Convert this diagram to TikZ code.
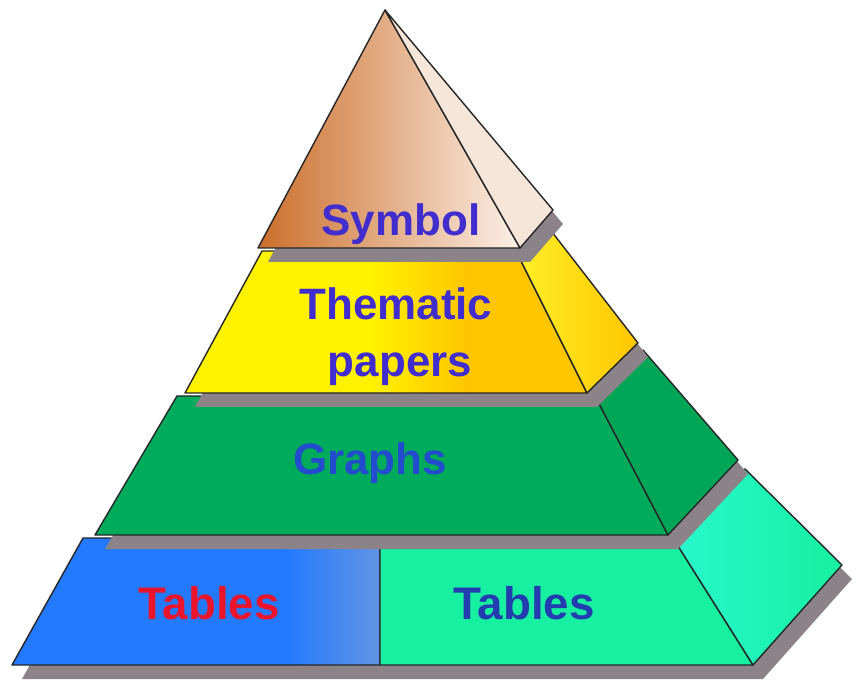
\documentclass[tikz,border=0pt]{standalone}
\usepackage{fontspec}
\setmainfont{Liberation Sans}

\definecolor{symDark}{RGB}{203,110,42}
\definecolor{symLight}{RGB}{252,240,232}
\definecolor{symSide}{RGB}{246,230,218}
\definecolor{yelA}{RGB}{255,242,0}
\definecolor{yelB}{RGB}{255,198,0}
\definecolor{yelSideA}{RGB}{255,240,40}
\definecolor{grnFront}{RGB}{0,172,92}
\definecolor{grnSide}{RGB}{0,166,86}
\definecolor{bluA}{RGB}{35,122,255}
\definecolor{bluB}{RGB}{98,148,228}
\definecolor{tealFront}{RGB}{22,240,160}
\definecolor{tealSide}{RGB}{40,248,205}
\definecolor{shadowGray}{RGB}{140,131,136}
\definecolor{txtPurple}{RGB}{65,45,205}
\definecolor{txtBlue}{RGB}{35,75,205}
\definecolor{txtRed}{RGB}{235,20,45}
\definecolor{txtNavy}{RGB}{35,60,175}

\pgfdeclarehorizontalshading{bluefade}{100bp}{color(0bp)=(bluA); color(25bp)=(bluA);
  color(62bp)=(bluA); color(75bp)=(bluB); color(100bp)=(bluB)}
\pgfdeclarehorizontalshading{yelfade}{100bp}{color(0bp)=(yelA); color(25bp)=(yelA);
  color(48bp)=(yelA); color(60bp)=(yelB); color(100bp)=(yelB)}

% outlines of the four tiers (front + side), in pixels
\newcommand{\outlineTables}{(12,665) -- (83,538) -- (673,538) -- (745,469) -- (842,565) -- (753,665) -- cycle}
\newcommand{\outlineGraphs}{(95,535) -- (177,396) -- (595,396) -- (643,350) -- (738,460) -- (668,535) -- cycle}
\newcommand{\outlinePapers}{(185,393) -- (262,251) -- (516,251) -- (552,232) -- (638,343) -- (587,393) -- cycle}
\newcommand{\outlineSymbol}{(258,248) -- (385,10) -- (553,210) -- (520,248) -- cycle}

\begin{document}
\begin{tikzpicture}[
    x=0.02cm, y=-0.02cm,
    facet/.style={draw=black!85, line width=0.8pt, line join=round},
    slabshadow/.style={fill=shadowGray, shift={(10,14)}},
    tiertext/.style={font=\bfseries\fontsize{25}{30}\selectfont, anchor=base, inner sep=0pt},
]
\useasboundingbox (0,0) rectangle (863,689);

% bottom tier
\fill[slabshadow] \outlineTables;
\shade[facet, shading=bluefade] (12,665) -- (83,538) -- (380,538) -- (380,665) -- cycle;
\fill[facet, fill=tealFront] (380,538) -- (673,538) -- (753,665) -- (380,665) -- cycle;
\shade[facet, left color=tealSide, right color=tealFront] (673,538) -- (745,469) -- (842,565) -- (753,665) -- cycle;

% graphs
\fill[slabshadow] \outlineGraphs;
\fill[facet, fill=grnFront] (95,535) -- (177,396) -- (595,396) -- (668,535) -- cycle;
\fill[facet, fill=grnSide] (595,396) -- (643,350) -- (738,460) -- (668,535) -- cycle;

% thematic papers
\fill[slabshadow] \outlinePapers;
\shade[facet, shading=yelfade] (185,393) -- (262,251) -- (516,251) -- (587,393) -- cycle;
\shade[facet, left color=yelSideA, right color=yelB] (516,251) -- (552,232) -- (638,343) -- (587,393) -- cycle;

% symbol
\fill[slabshadow] \outlineSymbol;
\shade[facet, left color=symDark, right color=symLight] (258,248) -- (385,10) -- (520,248) -- cycle;
\fill[facet, fill=symSide] (385,10) -- (553,210) -- (520,248) -- cycle;

\node[tiertext, text=txtPurple] (symbol)   at (401,236) {Symbol};
\node[tiertext, text=txtPurple] (thematic) at (396,320) {Thematic};
\node[tiertext, text=txtPurple] (papers)   at (400,377) {papers};
\node[tiertext, text=txtBlue]   (graphs)   at (370,475) {Graphs};
\node[tiertext, text=txtRed, font=\bfseries\fontsize{26}{30}\selectfont]  (tablesL) at (209,620) {Tables};
\node[tiertext, text=txtNavy, font=\bfseries\fontsize{26}{30}\selectfont] (tablesR) at (524,620) {Tables};

\end{tikzpicture}
\end{document}
